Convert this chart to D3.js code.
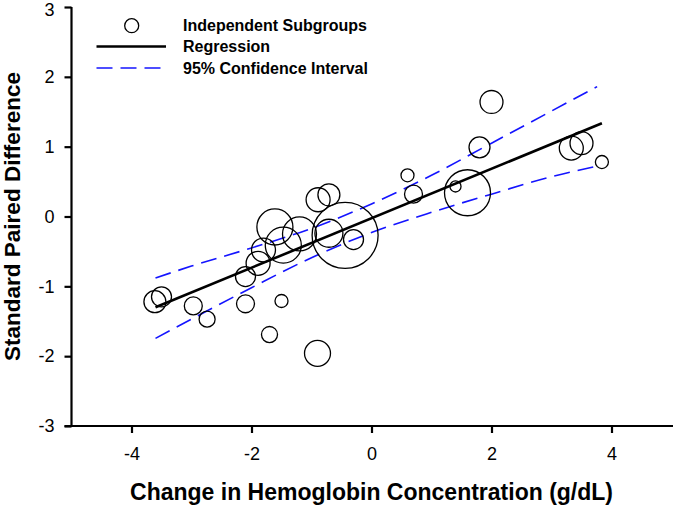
<!DOCTYPE html>
<html>
<head>
<meta charset="utf-8">
<script src="https://cdn.jsdelivr.net/npm/d3@7"></script>
<style>
  html, body { margin: 0; padding: 0; background: #fff; }
  svg { display: block; font-family: "Liberation Sans", Arial, sans-serif; }
</style>
</head>
<body>
<svg id="chart" width="673" height="506"></svg>
<script>
// ---- Data ----
const hbChange = [-3.61,-3.50,-2.97,-2.74,-2.10,-2.10,-1.89,-1.80,-1.47,-1.61,-1.20,-0.89,-0.71,-0.71,-0.44,-0.30,0.60,0.70,1.40,1.60,1.80,2.00,3.33,3.50,3.84,-1.50,-1.70,-0.90];
const spd      = [-1.22,-1.15,-1.28,-1.47,-1.25,-0.86,-0.67,-0.48,-0.41,-0.15,-0.25,0.24,0.31,-0.24,-0.27,-0.33,0.59,0.32,0.43,0.34,0.99,1.64,0.98,1.05,0.78,-1.21,-1.69,-1.96];
const subgroupSize = [111,92,74,59,74,92,132,132,298,298,265,132,111,180,1000,92,39,74,28,486,101,121,132,121,39,39,59,155];

const regX = [-3.6, 3.84];
const regY = [-1.30, 1.335];

const ciX     = [-3.6, -3, -2, -1, 0, 1, 2, 3, 3.76];
const ciUpper = [-0.88, -0.71, -0.45, -0.17, 0.18, 0.59, 1.05, 1.51, 1.86];
const ciLower = [-1.745, -1.47, -1.02, -0.59, -0.23, 0.06, 0.32, 0.57, 0.72];

const xTicks = [-4, -2, 0, 2, 4];
const yTicks = [-3, -2, -1, 0, 1, 2, 3];

const legendLabels = ["Independent Subgroups", "Regression", "95% Confidence Interval"];
const xTitle = "Change in Hemoglobin Concentration (g/dL)";
const yTitle = "Standard Paired Difference";

// ---- Layout ----
const svg = d3.select("#chart");
const mLeft = 71.5, mRight = 671.5, mTop = 7, mBottom = 426;

const x = d3.scaleLinear().domain([-5, 5]).range([mLeft, mRight]);
const y = d3.scaleLinear().domain([-3, 3]).range([mBottom, mTop]);
const r = d3.scaleSqrt().domain([0, 1000]).range([0, 33]);

const fmt = d => String(d);

// Axes
const xAxis = svg.append("g")
  .attr("transform", `translate(0,${mBottom})`)
  .call(d3.axisBottom(x).tickValues(xTicks).tickSize(7).tickSizeOuter(0).tickPadding(14).tickFormat(fmt));
const yAxis = svg.append("g")
  .attr("transform", `translate(${mLeft},0)`)
  .call(d3.axisLeft(y).tickValues(yTicks).tickSize(7).tickSizeOuter(0).tickPadding(10).tickFormat(fmt));

[xAxis, yAxis].forEach(g => {
  g.select(".domain").attr("stroke", "#000").attr("stroke-width", 2.2);
  g.selectAll(".tick line").attr("stroke", "#000").attr("stroke-width", 2.2);
  g.selectAll(".tick text").attr("fill", "#000").style("font-size", "18px")
    .style("font-family", "'Liberation Sans', Arial, sans-serif");
});
xAxis.select(".domain").attr("d", `M${mLeft - 7},0H673`);
yAxis.select(".domain").attr("d", `M0,${mTop}V${mBottom + 1}`);
// keep the top "3" label inside the picture
yAxis.selectAll(".tick text").filter(d => d === 3).attr("dy", "0.45em");

// Confidence interval lines
const ciLine = d3.line().curve(d3.curveMonotoneX).x(d => x(d[0])).y(d => y(d[1]));
const upperPts = ciX.map((v, i) => [v, ciUpper[i]]);
const lowerPts = ciX.map((v, i) => [v, ciLower[i]]);
[upperPts, lowerPts].forEach(pts => {
  svg.append("path").attr("d", ciLine(pts))
    .attr("fill", "none").attr("stroke", "#1414ff").attr("stroke-width", 1.6)
    .attr("stroke-dasharray", "16,8");
});

// Regression line
svg.append("path")
  .attr("d", d3.line().x(d => x(d[0])).y(d => y(d[1]))(regX.map((v, i) => [v, regY[i]])))
  .attr("fill", "none").attr("stroke", "#000").attr("stroke-width", 2.6);

// Bubbles
svg.append("g").selectAll("circle")
  .data(hbChange.map((v, i) => ({x: v, y: spd[i], n: subgroupSize[i]})))
  .join("circle")
  .attr("cx", d => x(d.x)).attr("cy", d => y(d.y)).attr("r", d => r(d.n))
  .attr("fill", "none").attr("stroke", "#000").attr("stroke-width", 1.3);

// Legend
const lg = svg.append("g");
lg.append("circle").attr("cx", 131.7).attr("cy", 25.7).attr("r", 7)
  .attr("fill", "none").attr("stroke", "#000").attr("stroke-width", 1.3);
lg.append("line").attr("x1", 96.5).attr("x2", 166).attr("y1", 46.5).attr("y2", 46.5)
  .attr("stroke", "#000").attr("stroke-width", 2.6);
lg.append("line").attr("x1", 96.5).attr("x2", 166).attr("y1", 68).attr("y2", 68)
  .attr("stroke", "#1414ff").attr("stroke-width", 1.6).attr("stroke-dasharray", "16,8");
legendLabels.forEach((t, i) => {
  lg.append("text").attr("x", 183).attr("y", [31, 52, 73.5][i])
    .style("font-size", "16px").style("font-weight", "bold").attr("fill", "#000").text(t);
});

// Titles
svg.append("text").attr("x", (mLeft + mRight) / 2).attr("y", 500)
  .attr("text-anchor", "middle").style("font-size", "23px").style("font-weight", "bold")
  .text(xTitle);
svg.append("text").attr("transform", `translate(20,${(mTop + mBottom) / 2}) rotate(-90)`)
  .attr("text-anchor", "middle").style("font-size", "22.5px").style("font-weight", "bold")
  .text(yTitle);
</script>
</body>
</html>
